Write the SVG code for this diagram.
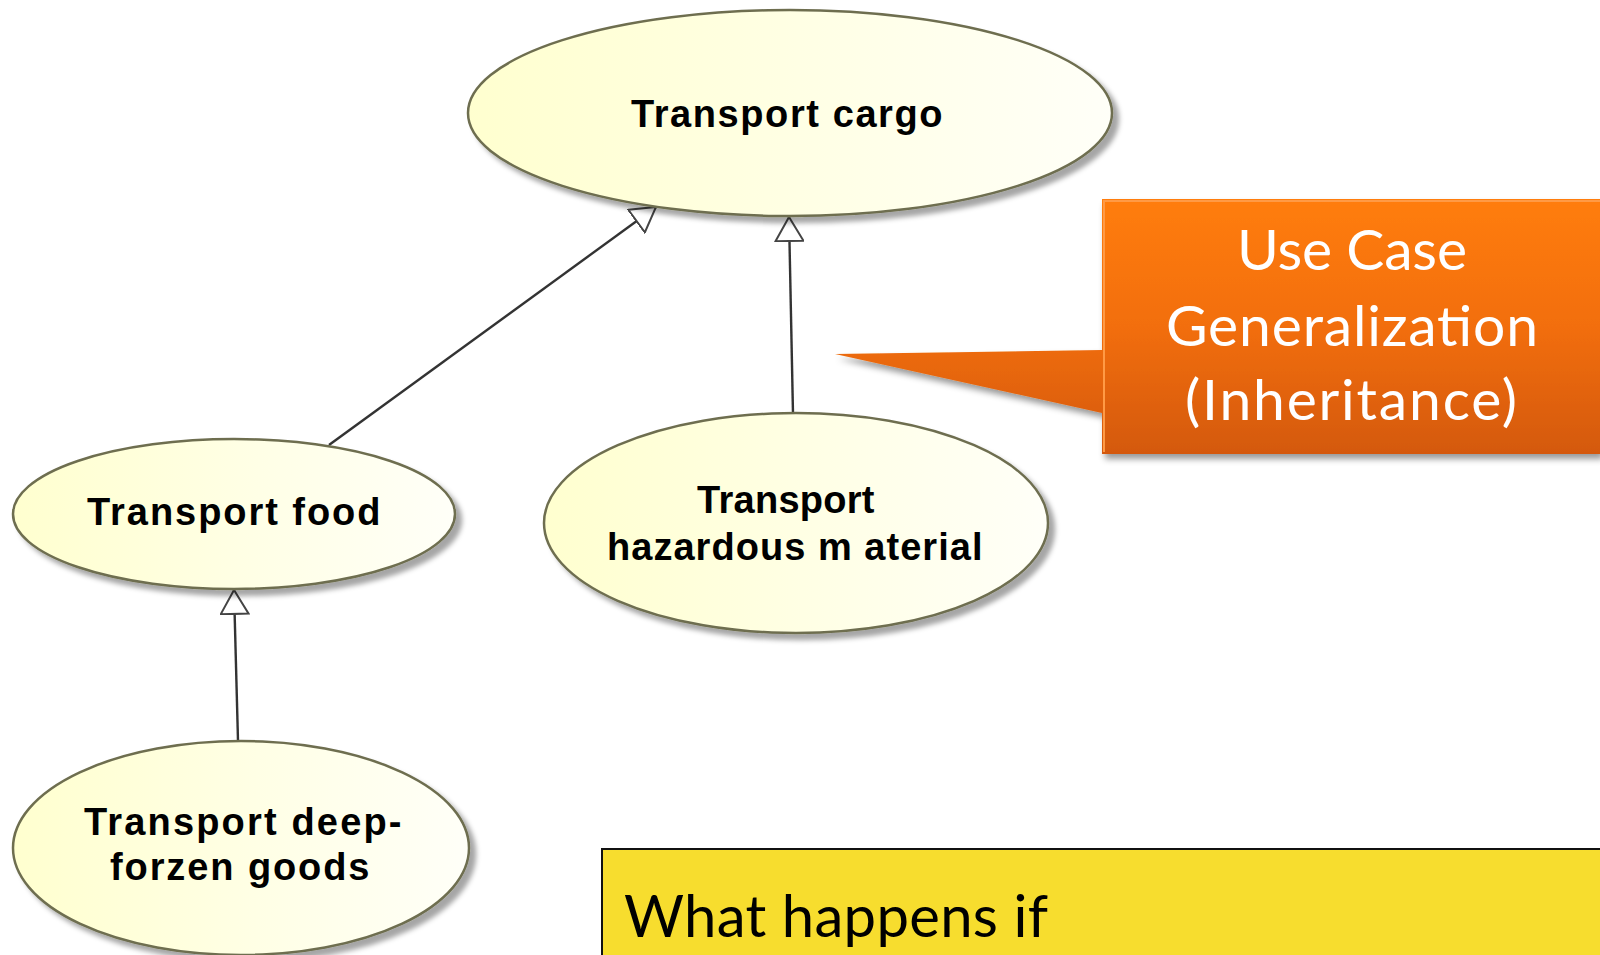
<svg xmlns="http://www.w3.org/2000/svg" width="1600" height="955" viewBox="0 0 1600 955">
  <defs>
    <linearGradient id="ucFill" x1="0" y1="0" x2="1" y2="0">
      <stop offset="0" stop-color="#FFFFCF"/>
      <stop offset="1" stop-color="#FFFFF8"/>
    </linearGradient>
    <linearGradient id="calloutFill" x1="0" y1="0" x2="0" y2="1">
      <stop offset="0" stop-color="#FF7D0C"/>
      <stop offset="0.5" stop-color="#F26E0A"/>
      <stop offset="1" stop-color="#D4590A"/>
    </linearGradient>
    <filter id="shadow" x="-10%" y="-10%" width="125%" height="130%">
      <feGaussianBlur in="SourceAlpha" stdDeviation="2.5"/>
      <feOffset dx="6" dy="6" result="b"/>
      <feFlood flood-color="#000" flood-opacity="0.35"/>
      <feComposite in2="b" operator="in"/>
      <feMerge><feMergeNode/><feMergeNode in="SourceGraphic"/></feMerge>
    </filter>
    <filter id="calloutShadow" x="-10%" y="-10%" width="125%" height="130%">
      <feGaussianBlur in="SourceAlpha" stdDeviation="3"/>
      <feOffset dx="3" dy="5" result="b"/>
      <feFlood flood-color="#000" flood-opacity="0.4"/>
      <feComposite in2="b" operator="in"/>
      <feMerge><feMergeNode/><feMergeNode in="SourceGraphic"/></feMerge>
    </filter>
    <marker id="gen" viewBox="0 0 26 30" refX="25" refY="15" markerWidth="26" markerHeight="30" markerUnits="userSpaceOnUse" orient="auto">
      <path d="M1,1 L25,15 L1,29 Z" fill="#fff" stroke="#444" stroke-width="2" stroke-linejoin="miter"/>
    </marker>
    <style>
      .uc { fill: url(#ucFill); stroke: #6E6E50; stroke-width: 2.5; filter: url(#shadow); }
      .ucText { font-family: "Liberation Sans", Arial, sans-serif; font-weight: bold; font-size: 38px; fill: #000; text-anchor: middle; letter-spacing: 0.5px; }
      .conn { stroke: #333; stroke-width: 2.4; fill: none; marker-end: url(#gen); }
      .calloutText { font-family: Lato, "Open Sans", sans-serif; font-size: 57px; fill: #fff; text-anchor: middle; }
      .noteText { font-family: Lato, "Open Sans", sans-serif; font-size: 58px; fill: #000; }
    </style>
  </defs>

  <rect width="1600" height="955" fill="#fff"/>

  <!-- generalization connectors -->
  <g id="connectors">
    <line class="conn" x1="329" y1="445" x2="656" y2="207"/>
    <line class="conn" x1="793" y1="414" x2="789" y2="217"/>
    <line class="conn" x1="238" y1="741" x2="234" y2="590"/>
  </g>

  <g id="uc-transport-cargo">
    <ellipse class="uc" cx="790" cy="113" rx="322" ry="103"/>
    <text class="ucText" x="787" y="127" font-size="39" textLength="312">Transport cargo</text>
  </g>

  <g id="uc-transport-food">
    <ellipse class="uc" cx="234" cy="514" rx="221" ry="75"/>
    <text class="ucText" x="234" y="525" textLength="294">Transport food</text>
  </g>

  <g id="uc-transport-hazardous">
    <ellipse class="uc" cx="796" cy="523" rx="252" ry="110"/>
    <text class="ucText" x="786" y="513" textLength="178">Transport</text>
    <text class="ucText" x="795" y="560" textLength="376">hazardous m aterial</text>
  </g>

  <g id="uc-transport-deepfrozen">
    <ellipse class="uc" cx="241" cy="848" rx="228" ry="107"/>
    <text class="ucText" x="243" y="835" textLength="318">Transport deep-</text>
    <text class="ucText" x="240" y="880" textLength="260">forzen goods</text>
  </g>

  <g id="callout">
    <path d="M1102,199 H1600 V454 H1102 V413 L835,354 L1102,350 Z" fill="url(#calloutFill)" filter="url(#calloutShadow)"/>
    <path d="M1104,452 V201 H1600" stroke="#FF9A45" stroke-width="2" fill="none"/>
    <text class="calloutText" x="1352" y="270" textLength="230">Use Case</text>
    <text class="calloutText" x="1352" y="346" textLength="372">Generalization</text>
    <text class="calloutText" x="1351" y="420" textLength="332">(Inheritance)</text>
  </g>

  <g id="note">
    <rect x="602" y="849" width="1010" height="120" fill="#F7DD2E" stroke="#111" stroke-width="2"/>
    <text class="noteText" x="624" y="937" textLength="424">What happens if</text>
  </g>
</svg>
